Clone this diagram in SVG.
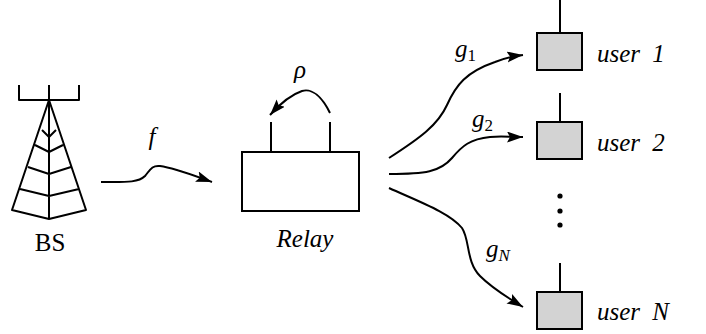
<svg xmlns="http://www.w3.org/2000/svg" width="706" height="334" viewBox="0 0 706 334">
<style>
.ln{fill:none;stroke:#000;stroke-width:2;stroke-linecap:butt;stroke-linejoin:round}
.wire{fill:none;stroke:#000;stroke-width:2;marker-end:url(#ah)}
.box{fill:#fff;stroke:#000;stroke-width:2}
.ubox{fill:#d3d3d3;stroke:#000;stroke-width:2}
.i{font-style:italic}
.sub{font-size:17px;font-style:normal}
.subi{font-size:17px;font-style:italic}
</style>
<defs>
<marker id="ah" markerUnits="userSpaceOnUse" markerWidth="18" markerHeight="13" refX="16" refY="5.5" orient="auto" viewBox="0 0 18 13">
<path d="M0,0 L16,5.5 L0,11 L3,5.5 z" fill="#000"/>
</marker>
</defs>
<rect width="706" height="334" fill="#fff"/>
<g font-family="Liberation Serif, DejaVu Serif, serif" font-size="25">
<g id="bs">
<path class="ln" d="M19,85 V100 H79 V85 M49,85 V219 M49,100 L12,210 L49,219 L86,210 Z M42,130 L49,137 L56,130 M35,145 L49,152 L63,145 M28,167 L49,174 L71,167 M20,189 L49,196 L79,189"/>
<text x="50" y="251" text-anchor="middle">BS</text>
</g>
<g id="relay">
<rect class="box" x="242" y="152" width="117" height="59"/>
<path class="ln" d="M271,152 V122 M330,152 V122"/>
<text class="i" x="305" y="247" text-anchor="middle">Relay</text>
</g>
<g id="user1">
<path class="ln" d="M560,0 V33"/>
<rect class="ubox" x="537" y="33" width="45" height="37"/>
<text class="i" x="597" y="62" word-spacing="6">user 1</text>
</g>
<g id="user2">
<path class="ln" d="M560,93 V122"/>
<rect class="ubox" x="537" y="122" width="45" height="37"/>
<text class="i" x="597" y="151" word-spacing="6">user 2</text>
</g>
<g id="dots">
<circle cx="560" cy="196" r="2.6"/>
<circle cx="560" cy="211" r="2.6"/>
<circle cx="560" cy="225" r="2.6"/>
</g>
<g id="userN">
<path class="ln" d="M560,263 V292"/>
<rect class="ubox" x="537" y="292" width="45" height="37"/>
<text class="i" x="597" y="320" word-spacing="6">user N</text>
</g>
<g id="connectors">
<path class="wire" d="M101,182 C125,182 138,183 145,176 C150,170 152,165 160,166 C175,168 195,176 212,182"/>
<path class="wire" d="M330,113 C322,97 312,88 302,91 C290,95 279,105 270,115"/>
<path class="wire" d="M389,158 C420,138 438,125 447,105 C456,85 466,72 495,62 C505,58 515,56 523,55"/>
<path class="wire" d="M389,174 C425,174 440,172 452,158 C462,146 470,139 490,137 C500,136 512,137 523,137"/>
<path class="wire" d="M389,188 C420,202 450,213 462,228 C470,240 466,262 480,276 C492,288 508,298 523,307"/>
</g>
<g id="labels">
<text class="i" x="152" y="145" text-anchor="middle">f</text>
<text class="i" x="300" y="78" text-anchor="middle">ρ</text>
<text class="i" x="455" y="57">g<tspan class="sub" dy="4">1</tspan></text>
<text class="i" x="472" y="127">g<tspan class="sub" dy="4">2</tspan></text>
<text class="i" x="486" y="257">g<tspan class="subi" dy="4">N</tspan></text>
</g>
</g>
</svg>
